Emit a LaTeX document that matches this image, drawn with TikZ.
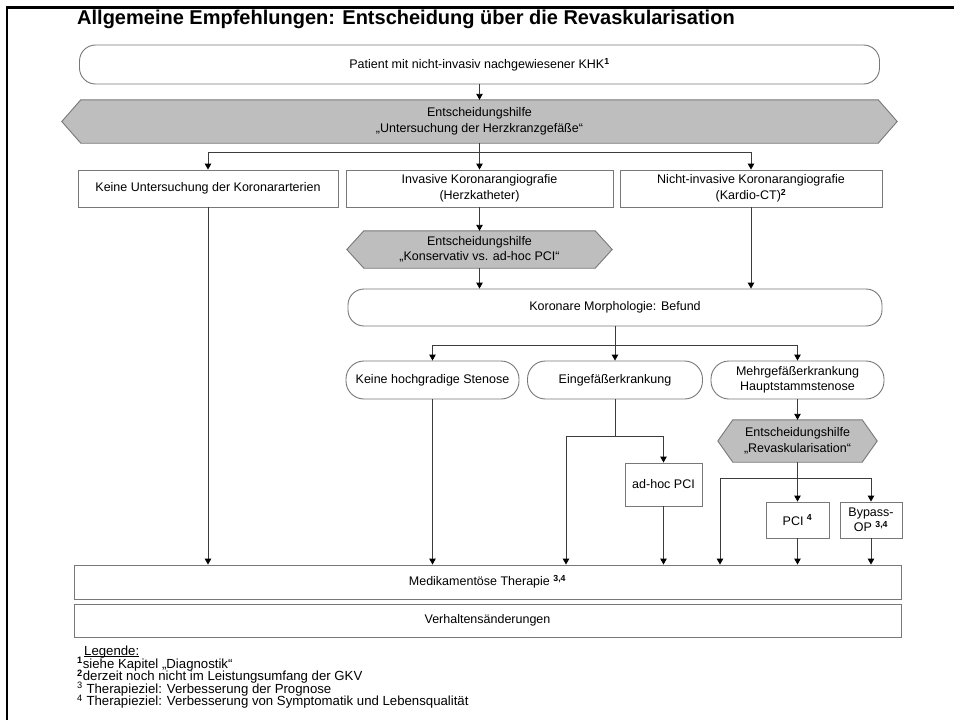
\documentclass[tikz,border=0pt]{standalone}
\usepackage{fontspec}
\setmainfont{Liberation Sans}
\usetikzlibrary{arrows.meta,backgrounds}
\definecolor{bord}{RGB}{120,120,120}
\definecolor{conn}{RGB}{60,60,60}
\definecolor{hexfill}{RGB}{190,190,190}
\newcommand{\bodyf}{\fontsize{12.5}{15.5}\selectfont}
\newcommand{\legf}{\fontsize{13.2}{15}\selectfont}
\newcommand{\supb}[1]{\textsuperscript{\textbf{#1}}}
\begin{document}
\begin{tikzpicture}[x=1pt,y=-1pt,
  bx/.style={draw=bord, line width=0.9pt, fill=white, align=center, inner sep=0pt, font=\bodyf, text=black},
  rbx/.style={bx, rounded corners=16pt},
  ovl/.style={bx, rounded corners=18pt},
  hx/.style={align=center, inner sep=0pt, font=\bodyf, text=black},
  hexshape/.style={draw=bord, line width=0.9pt, fill=hexfill},
  ln/.style={draw=conn, line width=0.9pt},
  arr/.style={ln, -{Triangle[length=6pt,width=6.5pt,color=black]}},
  legline/.style={anchor=base west, inner sep=0pt, text=black, font=\legf},
]
\useasboundingbox (0,0) rectangle (954,720);
\begin{pgfonlayer}{background}
\fill[white] (0,0) rectangle (954,720);
\end{pgfonlayer}
% frame
\draw[line width=2.5pt, black] (7,720) -- (7,7.5) -- (954,7.5);
% title
\node[anchor=base west, inner sep=0pt, font=\fontsize{20}{24}\selectfont\bfseries] (title) at (77,24) {Allgemeine Empfehlungen: Entscheidung über die Revaskularisation};

% top node
\node[rbx, minimum width=800pt, minimum height=39pt] (top) at (479.5,64.5) {Patient mit nicht-invasiv nachgewiesener KHK\supb{1}};
% hexagon 1
\node[hx, minimum width=835pt, minimum height=43pt] (h1) at (479.5,121.5) {Entscheidungshilfe\\„Untersuchung der Herzkranzgefäße“};
% three boxes
\node[bx, minimum width=260pt, minimum height=37pt] (b1) at (208,188.5) {Keine Untersuchung der Koronararterien};
\node[bx, minimum width=267pt, minimum height=37pt] (b2) at (479.5,188.5) {Invasive Koronarangiografie\\(Herzkatheter)};
\node[bx, minimum width=262pt, minimum height=37pt] (b3) at (751,188.5) {Nicht-invasive Koronarangiografie\\(Kardio-CT)\supb{2}};
% hexagon 2
\node[hx, minimum width=265pt, minimum height=37pt] (h2) at (479.5,249.5) {Entscheidungshilfe\\„Konservativ vs. ad-hoc PCI“};
% Koronare Morphologie
\node[rbx, minimum width=534pt, minimum height=37pt] (km) at (615,307.5) {Koronare Morphologie: Befund};
% ovals
\node[ovl, minimum width=173pt, minimum height=38pt] (o1) at (432.5,380) {Keine hochgradige Stenose};
\node[ovl, minimum width=175pt, minimum height=38pt] (o2) at (615,380) {Eingefäßerkrankung};
\node[ovl, minimum width=173pt, minimum height=38pt] (o3) at (797.5,380) {Mehrgefäßerkrankung\\Hauptstammstenose};
% ad-hoc PCI
\node[bx, minimum width=77pt, minimum height=43pt] (adhoc) at (663.5,484.5) {ad-hoc PCI};
% hexagon 3
\node[hx, minimum width=159pt, minimum height=42pt] (h3) at (797.5,441) {Entscheidungshilfe\\„Revaskularisation“};
% PCI / Bypass
\node[bx, minimum width=63pt, minimum height=36pt] (pci) at (797.5,520) {PCI \supb{4}};
\node[bx, minimum width=62pt, minimum height=36pt] (byp) at (871,520) {Bypass-\\OP \supb{3,4}};
% bottom boxes
\node[bx, minimum width=827pt, minimum height=34pt] (med) at (487.5,582) {Medikamentöse Therapie \supb{3,4}};
\node[bx, minimum width=827pt, minimum height=33pt] (verh) at (487.5,620.5) {Verhaltensänderungen};
% legend
\node[legline] (legh) at (84,655) {Legende:};
\draw[black, line width=0.7pt] ([yshift=-1.8pt]legh.base west) -- ([yshift=-1.8pt]legh.base east);
\node[legline] (leg1) at (77,668) {\supb{1}siehe Kapitel „Diagnostik“};
\node[legline] (leg2) at (77,680.5) {\supb{2}derzeit noch nicht im Leistungsumfang der GKV};
\node[legline] (leg3) at (77,693) {\textsuperscript{3} Therapieziel: Verbesserung der Prognose};
\node[legline] (leg4) at (77,705.5) {\textsuperscript{4} Therapieziel: Verbesserung von Symptomatik und Lebensqualität};

% hexagon shapes
\begin{pgfonlayer}{background}
\draw[hexshape] (h1.west) -- ([xshift=19pt]h1.north west) -- ([xshift=-19pt]h1.north east) -- (h1.east) -- ([xshift=-19pt]h1.south east) -- ([xshift=19pt]h1.south west) -- cycle;
\draw[hexshape] (h2.west) -- ([xshift=17pt]h2.north west) -- ([xshift=-17pt]h2.north east) -- (h2.east) -- ([xshift=-17pt]h2.south east) -- ([xshift=17pt]h2.south west) -- cycle;
\draw[hexshape] (h3.west) -- ([xshift=15pt]h3.north west) -- ([xshift=-15pt]h3.north east) -- (h3.east) -- ([xshift=-15pt]h3.south east) -- ([xshift=15pt]h3.south west) -- cycle;
\end{pgfonlayer}

% junctions
\coordinate (j1) at (479.5,152);
\coordinate (j2) at (615,345);
\coordinate (j3) at (615,436);
\coordinate (j3l) at (566,436);
\coordinate (j4) at (797.5,478);
\coordinate (j4l) at (720,478);

% connectors
\draw[arr] (top.south) -- (h1.north);
\draw[arr] (h1.south) -- (b2.north);
\draw[ln] (b1.north |- j1) -- (b3.north |- j1);
\draw[arr] (j1) -| (b1.north);
\draw[arr] (j1) -| (b3.north);
\draw[arr] (b1.south) -- (b1.south |- med.north);
\draw[arr] (b2.south) -- (h2.north);
\draw[arr] (h2.south) -- (h2.south |- km.north);
\draw[arr] (b3.south) -- (b3.south |- km.north);
\draw[ln] (km.south) -- (j2);
\draw[ln] (o1.north |- j2) -- (o3.north |- j2);
\draw[arr] (j2) -- (o2.north);
\draw[arr] (j2) -| (o1.north);
\draw[arr] (j2) -| (o3.north);
\draw[arr] (o1.south) -- (o1.south |- med.north);
\draw[ln] (o2.south) -- (j3);
\draw[ln] (j3l) -- (j3);
\draw[arr] (j3) -| (adhoc.north);
\draw[arr] (j3l) -- (j3l |- med.north);
\draw[arr] (adhoc.south) -- (adhoc.south |- med.north);
\draw[arr] (o3.south) -- (h3.north);
\draw[ln] (h3.south) -- (j4);
\draw[ln] (j4l) -- (j4);
\draw[arr] (j4) -- (pci.north);
\draw[arr] (j4) -| (byp.north);
\draw[arr] (j4l) -- (j4l |- med.north);
\draw[arr] (pci.south) -- (pci.south |- med.north);
\draw[arr] (byp.south) -- (byp.south |- med.north);
\end{tikzpicture}
\end{document}
